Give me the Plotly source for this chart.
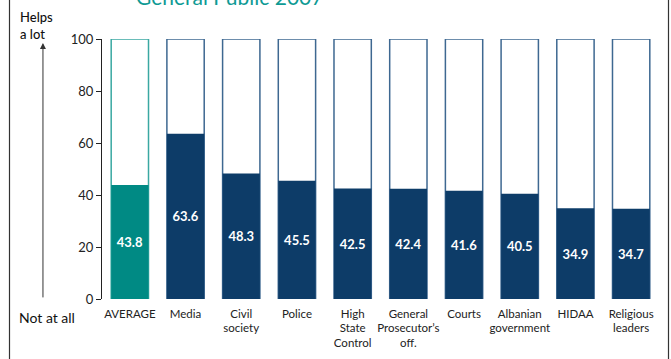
import plotly.graph_objects as go

categories = ["AVERAGE", "Media", "Civil<br>society", "Police", "High<br>State<br>Control",
              "General<br>Prosecutor’s<br>off.", "Courts", "Albanian<br>government",
              "HIDAA", "Religious<br>leaders"]
values = [43.8, 63.6, 48.3, 45.5, 42.5, 42.4, 41.6, 40.5, 34.9, 34.7]
full_scale = [100] * len(categories)
y_ticks = [0, 20, 40, 60, 80, 100]

TEAL = "#008a84"
NAVY = "#0d3c68"
fill_colors = [TEAL] + [NAVY] * (len(categories) - 1)
edge_colors = ["#3aa8a2"] + ["#3e6891"] * (len(categories) - 1)

FONT = "Lato, 'Noto Sans', sans-serif"

fig = go.Figure()

# white 0-100 frame behind each bar
fig.add_trace(go.Bar(
    x=categories, y=full_scale, width=0.67,
    marker=dict(color="white", line=dict(color=edge_colors, width=1.5)),
    hoverinfo="skip", showlegend=False,
))

# filled share
fig.add_trace(go.Bar(
    x=categories, y=values, width=0.67,
    marker=dict(color=fill_colors, line=dict(width=0)),
    text=[f"{v:.1f}" for v in values], textposition="inside",
    insidetextanchor="middle", textangle=0,
    textfont=dict(family=FONT, size=13, color="white", weight="bold"),
    showlegend=False,
))

fig.update_layout(
    barmode="overlay",
    width=671, height=359,
    margin=dict(l=102, r=12, t=38.5, b=59.5),
    paper_bgcolor="white", plot_bgcolor="white",
    font=dict(family=FONT, size=11, color="#222222"),
    xaxis=dict(showline=False, showgrid=False, ticks="", range=[-0.5, 9.5],
               ticklabelstandoff=6, automargin=False,
               tickfont=dict(size=11.5, color="#222222")),
    yaxis=dict(range=[0, 100], tickvals=y_ticks, showgrid=False, zeroline=False,
               showline=True, linecolor="#222222", linewidth=1,
               ticks="outside", ticklen=5, tickcolor="#222222", automargin=False,
               tickfont=dict(size=13, color="#222222")),
)

# vertical scale arrow with its end labels
fig.add_annotation(xref="paper", yref="paper", x=-0.106, y=0.985,
                   ax=0, ay=256, axref="pixel", ayref="pixel",
                   text="", showarrow=True, arrowhead=2, arrowsize=1.2,
                   arrowwidth=1, arrowcolor="#333333")
fig.add_annotation(xref="paper", yref="paper", x=-0.151, y=1.052,
                   xanchor="left", yanchor="middle", align="left",
                   text="Helps<br>a lot", showarrow=False,
                   font=dict(size=13, color="#111111", weight=500))
fig.add_annotation(xref="paper", yref="paper", x=-0.152, y=-0.071,
                   xanchor="left", yanchor="middle",
                   text="Not at all", showarrow=False,
                   font=dict(size=14, color="#111111"))

# chart heading, mostly above the visible area
fig.add_annotation(xref="paper", yref="paper", x=0.058, y=1.165,
                   xanchor="left", yanchor="middle",
                   text="General Public 2007", showarrow=False,
                   font=dict(size=21, color="#0e9a94"))

# side rules of the surrounding frame
for px in (9.5, 668.5):
    fig.add_shape(type="line", xref="paper", yref="paper",
                  x0=(px - 102) / 557, x1=(px - 102) / 557,
                  y0=-0.25, y1=1.2, line=dict(color="#333333", width=1.2))

fig.write_html("out.html")
